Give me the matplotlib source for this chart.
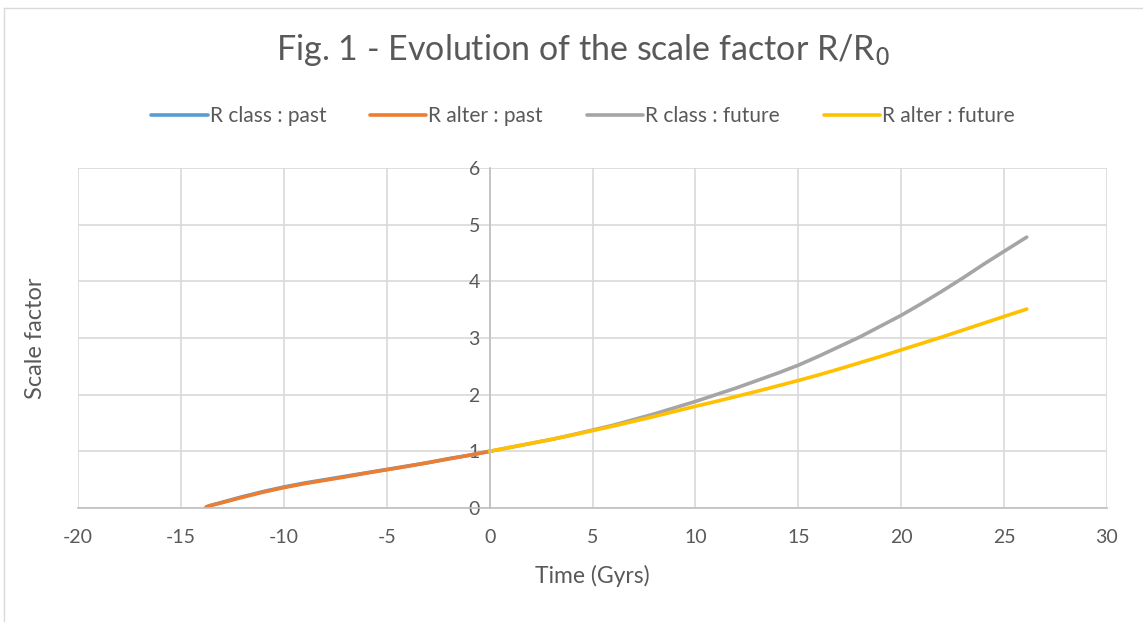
import matplotlib.pyplot as plt
from matplotlib.lines import Line2D

plt.rcParams['font.family'] = ['Lato', 'DejaVu Sans']
plt.rcParams['axes.unicode_minus'] = False

# past: time (Gyrs) before now
t_past = [-13.8, -13.75, -13.6, -13.5, -13.0, -12.0, -11.0, -10.0, -9.0, -8.0,
          -7.0, -6.0, -5.0, -4.0, -3.0, -2.0, -1.0, 0.0]
r_class_past = [0.0, 0.02, 0.04, 0.05, 0.10, 0.20, 0.29, 0.37, 0.44, 0.50,
                0.56, 0.62, 0.68, 0.74, 0.80, 0.87, 0.93, 1.0]
r_alter_past = [0.0, 0.02, 0.04, 0.05, 0.095, 0.19, 0.28, 0.36, 0.43, 0.49,
                0.55, 0.615, 0.675, 0.735, 0.80, 0.865, 0.93, 1.0]

# future
t_future = [0, 1, 2, 3, 4, 5, 6, 7, 8, 9, 10, 11, 12, 13, 14, 15, 16, 17, 18,
            19, 20, 21, 22, 23, 24, 25, 26.1]
r_class_future = [1.0, 1.07, 1.14, 1.21, 1.29, 1.375, 1.46, 1.56, 1.66, 1.77,
                  1.88, 2.0, 2.12, 2.25, 2.38, 2.52, 2.68, 2.85, 3.02, 3.21,
                  3.40, 3.61, 3.83, 4.06, 4.30, 4.53, 4.78]
r_alter_future = [1.0, 1.07, 1.14, 1.21, 1.285, 1.365, 1.445, 1.53, 1.615, 1.705,
                  1.795, 1.88, 1.97, 2.06, 2.155, 2.25, 2.35, 2.455, 2.565, 2.675,
                  2.79, 2.905, 3.02, 3.14, 3.26, 3.38, 3.51]

xticks = list(range(-20, 31, 5))
yticks = list(range(0, 7))

txt = '#595959'
fig = plt.figure(figsize=(11.43, 6.22), dpi=100)
ax = fig.add_axes([78 / 1143, (622 - 508) / 622, (1107 - 78) / 1143, 340 / 622])

lw = 2.6
ax.plot(t_past, r_class_past, color='#5B9BD5', lw=lw, label='R class : past', solid_capstyle='round')
ax.plot(t_past, r_alter_past, color='#ED7D31', lw=lw, label='R alter : past', solid_capstyle='round')
ax.plot(t_future, r_class_future, color='#A5A5A5', lw=lw, label='R class : future', solid_capstyle='round')
ax.plot(t_future, r_alter_future, color='#FFC000', lw=lw, label='R alter : future', solid_capstyle='round')

ax.set_xlim(-20, 30)
ax.set_ylim(0, 6)
ax.set_xticks(xticks)
ax.set_yticks(yticks)
ax.grid(True, color='#D9D9D9', lw=1.2)
ax.set_axisbelow(True)
ax.tick_params(length=0, labelsize=14, colors=txt)
ax.tick_params(axis='x', pad=15)
ax.tick_params(axis='y', pad=7)

for s in ['top', 'right']:
    ax.spines[s].set_visible(False)
ax.spines['left'].set_position(('data', 0))
ax.spines['left'].set_color('#BFBFBF')
ax.spines['bottom'].set_color('#BFBFBF')
ax.spines['left'].set_linewidth(1.2)
ax.spines['bottom'].set_linewidth(1.2)

ax.set_xlabel('Time (Gyrs)', fontsize=16.5, color=txt, labelpad=14)
ax.set_ylabel('Scale factor', fontsize=17, color=txt)
ax.yaxis.set_label_coords(-0.031, 0.5)

fig.text(583 / 1143, 1 - 50 / 622, 'Fig. 1 - Evolution of the scale factor R/R$_0$', fontsize=24.5,
         color=txt, ha='center', va='center')
leg_x = (583 - 78) / (1107 - 78)
ax.legend(loc='center', bbox_to_anchor=(leg_x, 1 + (168 - 116) / 340), ncol=4, frameon=False,
          fontsize=15, labelcolor=txt, handlelength=2.7, handletextpad=0.1, columnspacing=2.1)

# outer chart border (top and left visible)
fig.add_artist(Line2D([4 / 1143, 1], [1 - 8 / 622, 1 - 8 / 622], color='#D9D9D9', lw=1))
fig.add_artist(Line2D([4 / 1143, 4 / 1143], [0, 1 - 8 / 622], color='#D9D9D9', lw=1))

fig.savefig('out.png', dpi=100)
